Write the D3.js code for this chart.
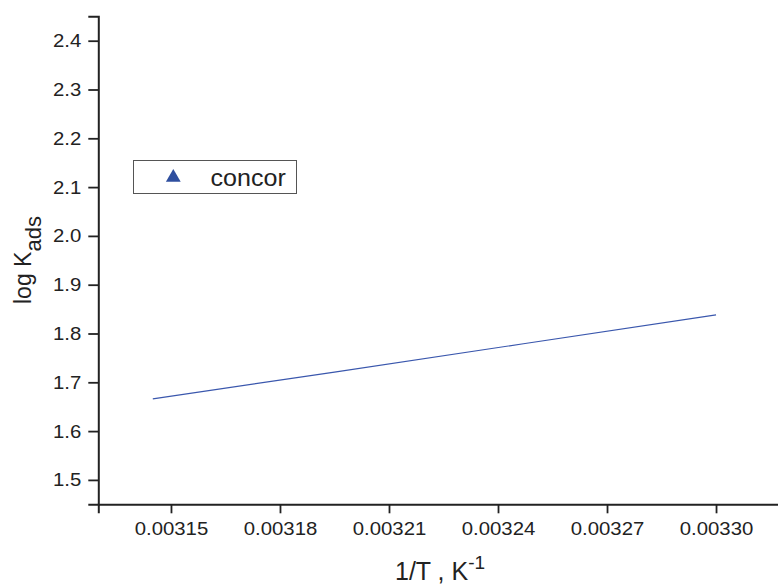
<!DOCTYPE html>
<html>
<head>
<meta charset="utf-8">
<script src="https://cdn.jsdelivr.net/npm/d3@7"></script>
<style>
  body { margin: 0; background: #fff; }
  text { font-family: "Liberation Sans", Arial, sans-serif; fill: #222; }
</style>
</head>
<body>
<div id="chart"></div>
<script>
// values
var invT = [0.003145, 0.003195, 0.003247, 0.003300];
var logKads = [1.666, 1.721, 1.779, 1.838];
var seriesName = "concor";
var xMajor = [0.00315, 0.00318, 0.00321, 0.00324, 0.00327, 0.00330];
var xMinor = [0.003135, 0.003165, 0.003195, 0.003225, 0.003255, 0.003285, 0.003315];
var yMajor = [1.5, 1.6, 1.7, 1.8, 1.9, 2.0, 2.1, 2.2, 2.3, 2.4];
var yMinor = [1.45, 1.55, 1.65, 1.75, 1.85, 1.95, 2.05, 2.15, 2.25, 2.35, 2.45];

var W = 778, H = 584;
var svg = d3.select("#chart").append("svg")
    .attr("width", W)
    .attr("height", H);

var x = d3.scaleLinear().domain([0.00313, 0.00332]).range([98.3, 788.7]);
var y = d3.scaleLinear().domain([1.45, 2.45]).range([504.3, 16.3]);

// text is a bit wider than plain Arial in the picture
function stretch(sel, k) {
    sel.each(function () {
        var w = this.getComputedTextLength();
        this.setAttribute("textLength", w * k);
        this.setAttribute("lengthAdjust", "spacingAndGlyphs");
    });
}

//x axis
var gx = svg.append("g").attr("transform", "translate(0," + y(1.45) + ")");
gx.call(d3.axisBottom(x).tickValues(xMinor).tickSize(5).tickFormat(""));
gx.call(d3.axisBottom(x).tickValues(xMajor).tickSize(9).tickPadding(8)
    .tickFormat(d3.format(".5f")));
gx.selectAll("path.domain").attr("stroke", "#222").attr("stroke-width", 2);
gx.selectAll(".tick line").attr("stroke", "#222").attr("stroke-width", 1.8);
gx.selectAll(".tick text").attr("font-size", "19px").attr("fill", "#222")
    .style("font-family", "'Liberation Sans', Arial, sans-serif");

//y axis
var gy = svg.append("g").attr("transform", "translate(" + x(0.00313) + ",0)");
gy.call(d3.axisLeft(y).tickValues(yMinor).tickSize(5).tickFormat(""));
gy.call(d3.axisLeft(y).tickValues(yMajor).tickSize(10).tickPadding(7)
    .tickFormat(d3.format(".1f")));
gy.selectAll("path.domain").attr("stroke", "#222").attr("stroke-width", 2);
gy.selectAll(".tick line").attr("stroke", "#222").attr("stroke-width", 1.8);
gy.selectAll(".tick text").attr("font-size", "19px").attr("fill", "#222")
    .style("font-family", "'Liberation Sans', Arial, sans-serif");

stretch(gx.selectAll(".tick text"), 1.07);
stretch(gy.selectAll(".tick text"), 1.07);

// the fitted line
var pts = invT.map(function (d, i) { return [d, logKads[i]]; });
svg.append("path")
    .datum(pts)
    .attr("fill", "none")
    .attr("stroke", "#3a57ad")
    .attr("stroke-width", 1.2)
    .attr("d", d3.line()
        .x(function (d) { return x(d[0]); })
        .y(function (d) { return y(d[1]); }));

// legend
var lg = svg.append("g");
lg.append("rect")
    .attr("x", 133.5).attr("y", 160.5)
    .attr("width", 163).attr("height", 33)
    .attr("fill", "#fff")
    .attr("stroke", "#555")
    .attr("stroke-width", 1);
lg.append("path")
    .attr("d", d3.symbol().type(d3.symbolTriangle).size(95)())
    .attr("transform", "translate(173.3,177.5)")
    .attr("fill", "#2f4f9f");
var lt = lg.append("text")
    .attr("x", 210.5).attr("y", 186)
    .attr("font-size", "23px")
    .text(seriesName);
stretch(lt, 1.09);

// axis titles
var xt = svg.append("text")
    .attr("x", 395).attr("y", 580)
    .attr("font-size", "25px");
xt.append("tspan").text("1/T , K");
xt.append("tspan").attr("font-size", "19px").attr("dy", -11).text("-1");

var yt = svg.append("text")
    .attr("transform", "translate(31,304) rotate(-90)")
    .attr("font-size", "23px");
yt.append("tspan").text("log K");
yt.append("tspan").attr("font-size", "22px").attr("dy", 10).text("ads");
</script>
</body>
</html>
